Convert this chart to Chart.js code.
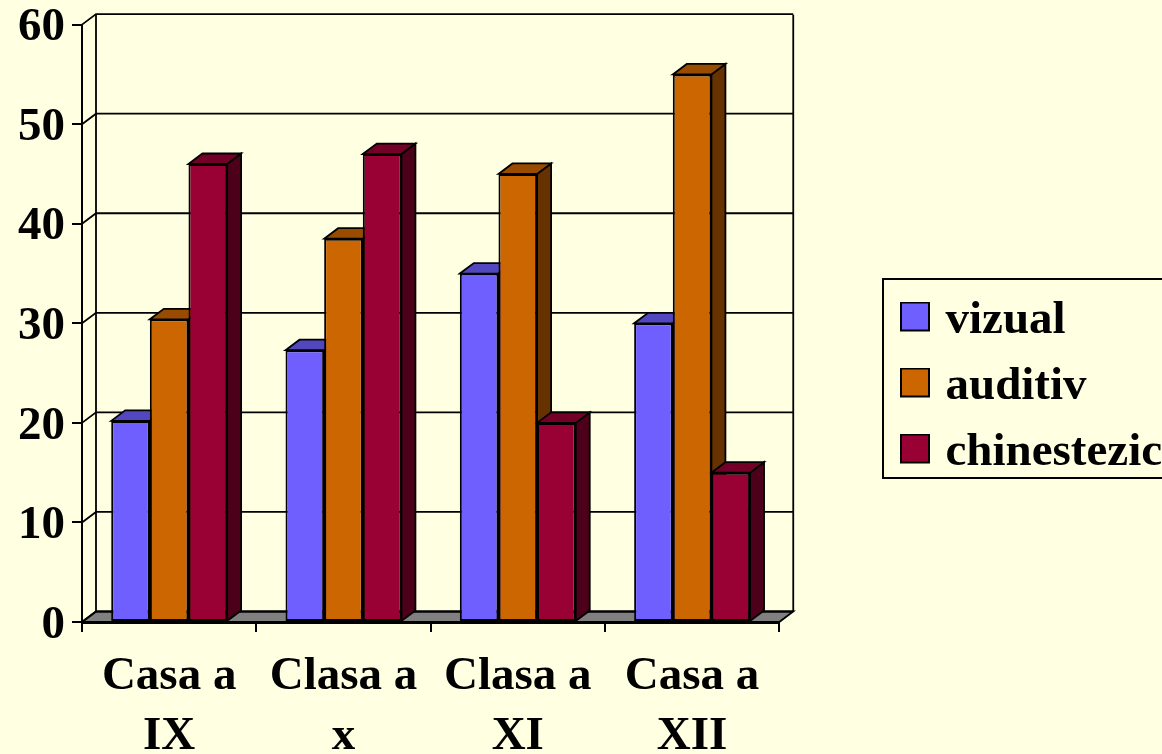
<!DOCTYPE html>
<html><head><meta charset="utf-8">
<style>html,body{margin:0;padding:0;background:#FFFFE1;overflow:hidden}#w{position:relative;width:1162px;height:754px}</style>
<script src="https://cdn.jsdelivr.net/npm/chart.js@4"></script>
</head><body><div id="w"><canvas id="c" width="1162" height="754"></canvas></div>
<script>
const categories = [["Casa a","IX"],["Clasa a","x"],["Clasa a","XI"],["Casa a","XII"]];
const vizual = [20.2,27.3,35,30];
const auditiv = [30.4,38.5,45,55];
const chinestezic = [46,47,20,15];
const yTicks = [0,10,20,30,40,50,60];

const DX = 14, DY = 10.5;
const FONT = {family:'"Liberation Serif","Times New Roman",serif', size:47, weight:'bold', lineHeight:1.27};
const faces = [
  {front:'#6F5FFF', top:'#5247BF', side:'#372F7F'},
  {front:'#CC6600', top:'#994C00', side:'#663300'},
  {front:'#990033', top:'#730026', side:'#4C0019'}
];
function poly(ctx, pts, fill){
  ctx.beginPath();
  pts.forEach((p,i)=> i?ctx.lineTo(p[0],p[1]):ctx.moveTo(p[0],p[1]));
  ctx.closePath();
  if(fill){ctx.fillStyle=fill;ctx.fill();}
  ctx.stroke();
}
function legendSwatch(color){
  const c=document.createElement('canvas'); c.width=39; c.height=38;
  const x=c.getContext('2d');
  x.fillStyle=color; x.fillRect(9,0,30,30);
  x.strokeStyle='#000'; x.lineWidth=2; x.strokeRect(10,1,28,28);
  return c;
}
const pseudo3d = {
  id:'pseudo3d',
  afterLayout(chart){
    const l = chart.legend;
    l.left = 880; l.top = 278; l.right = 1400; l.bottom = 754; l.width=520; l.height=476;
  },
  beforeDatasetsDraw(chart){
    const {ctx, chartArea:a, scales:{y}} = chart;
    ctx.save();
    ctx.strokeStyle='#000'; ctx.lineWidth=1.8; ctx.lineJoin='miter';
    poly(ctx,[[a.left,a.bottom],[a.left+DX,a.bottom-DY],[a.right+DX,a.bottom-DY],[a.right,a.bottom]],'#808080');
    ctx.beginPath();
    ctx.moveTo(a.left+DX,a.bottom-DY); ctx.lineTo(a.left+DX,a.top-DY+0.5);
    ctx.moveTo(a.right+DX,a.bottom-DY); ctx.lineTo(a.right+DX,a.top-DY+0.5);
    ctx.stroke();
    yTicks.forEach(v=>{
      const py=y.getPixelForValue(v);
      ctx.beginPath();
      ctx.moveTo(a.left,py); ctx.lineTo(a.left+DX,py-DY); ctx.lineTo(a.right+DX,py-DY);
      ctx.stroke();
    });
    chart.data.datasets.forEach((ds,i)=>{
      chart.getDatasetMeta(i).data.forEach(b=>{
        const l=b.x-b.width/2, r=b.x+b.width/2, t=b.y, bt=b.base;
        poly(ctx,[[r,t],[r+DX,t-DY],[r+DX,bt-DY],[r,bt]],faces[i].side);
        poly(ctx,[[l,t],[l+DX,t-DY],[r+DX,t-DY],[r,t]],faces[i].top);
      });
    });
    ctx.restore();
  },
  beforeDraw(chart){
    const {ctx}=chart;
    ctx.save();
    ctx.strokeStyle='#000'; ctx.lineWidth=2;
    ctx.strokeRect(883,279,400,199);
    ctx.restore();
  }
};
new Chart(document.getElementById('c'),{
  type:'bar',
  plugins:[pseudo3d],
  data:{labels:categories,datasets:[
    {label:'vizual',data:vizual,backgroundColor:faces[0].front},
    {label:'auditiv',data:auditiv,backgroundColor:faces[1].front},
    {label:'chinestezic',data:chinestezic,backgroundColor:faces[2].front}
  ]},
  options:{
    responsive:false,animation:false,
    layout:{padding:{left:0,top:18,right:123,bottom:0}},
    datasets:{bar:{barPercentage:1,categoryPercentage:0.665,borderColor:'#000',borderWidth:2,borderSkipped:false}},
    plugins:{
      tooltip:{enabled:false},
      legend:{display:true,position:'right',align:'start',fullSize:false,
        labels:{font:FONT,color:'#000',boxWidth:30,boxHeight:30,padding:19,usePointStyle:true,pointStyleWidth:23,
          generateLabels(chart){return chart.data.datasets.map((d,i)=>({text:d.label,fillStyle:d.backgroundColor,strokeStyle:'#000',lineWidth:2,datasetIndex:i,pointStyle:legendSwatch(d.backgroundColor)}));}}
      }
    },
    scales:{
      x:{
        grid:{display:true,drawOnChartArea:false,color:'#000',lineWidth:2,tickLength:10,offset:true},
        border:{display:true,color:'#000',width:3},
        ticks:{font:FONT,color:'#000',maxRotation:0,minRotation:0,autoSkip:false,padding:15},
        afterFit(s){s.height=132;}
      },
      y:{
        min:0,max:60,
        grid:{display:true,drawOnChartArea:false,color:'#000',lineWidth:2,tickLength:10},
        border:{display:true,color:'#000',width:2},
        ticks:{font:{...FONT,lineHeight:0.75},color:'#000',padding:7,stepSize:10},
        afterFit(s){
          s.width=82;
          if(!s._shifted){
            s._shifted=true;
            const orig=s._computeLabelItems;
            s._computeLabelItems=function(ca){
              const items=orig.call(this,ca);
              items.forEach(it=>{it.options={...it.options,translation:[it.options.translation[0],it.options.translation[1]+3.5]};});
              return items;
            };
          }
        }
      }
    }
  }
});
</script></body></html>
